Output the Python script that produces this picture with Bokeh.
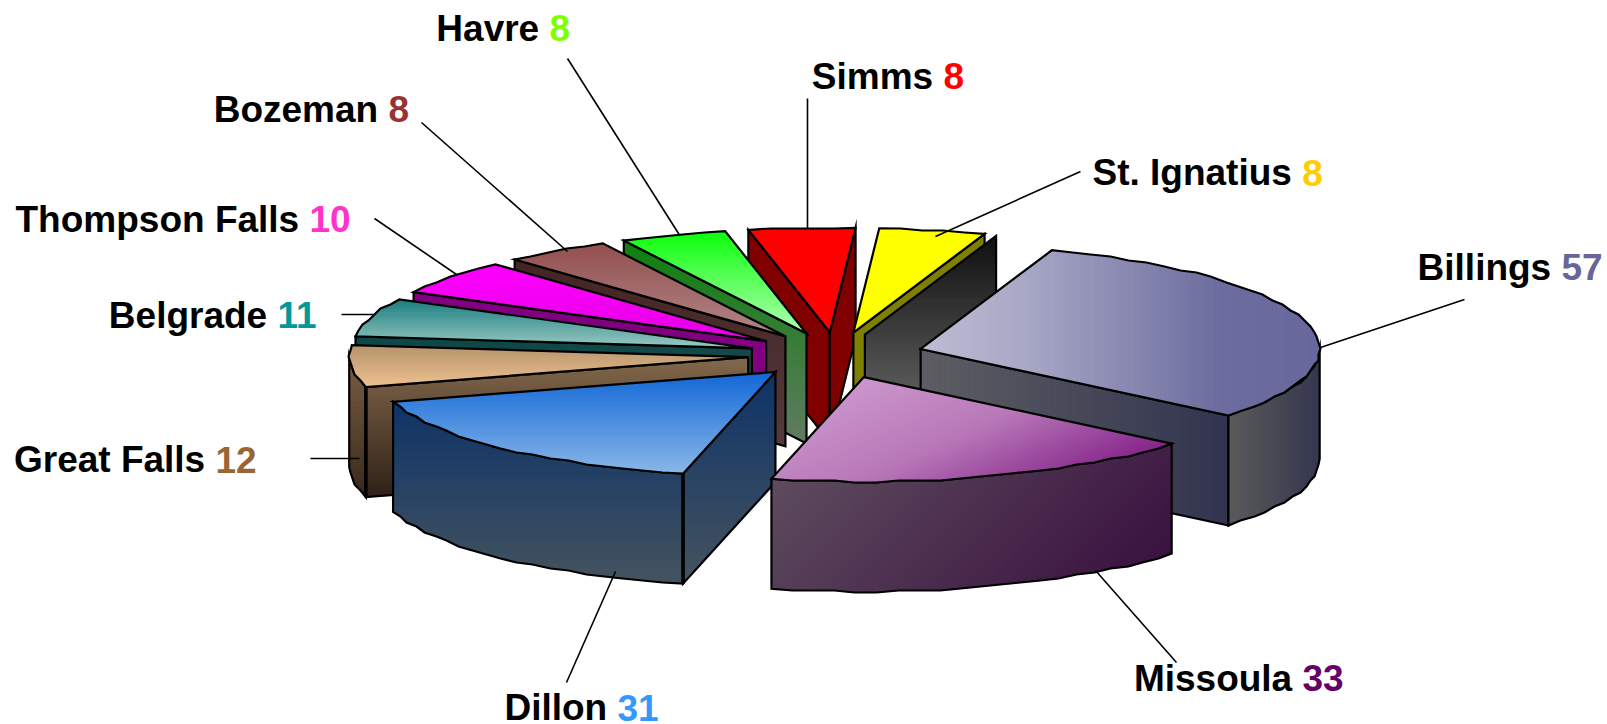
import math
from bokeh.plotting import figure
from bokeh.models import Range1d, ColumnDataSource
from bokeh.embed import file_html
from bokeh.resources import INLINE
from bokeh.core.properties import value

# ---- data, clockwise from the first slice
names = ["Billings", "Missoula", "Dillon", "Great Falls", "Belgrade",
         "Thompson Falls", "Bozeman", "Havre", "Simms", "St. Ignatius"]
counts = [57, 33, 31, 12, 11, 10, 8, 8, 8, 8]
value_colors = ["#666699", "#660066", "#3399ff", "#996633", "#009999",
                "#ff33cc", "#993333", "#80ff00", "#ff0000", "#ffcc00"]

# ---- pie geometry (pixels of the page)
START = 19.2
CX, CY = 835.4, 354.7
RADIUS, TILT, DEPTH, EXPLODE = 399.0, 0.262, 110.0, 88.0
GHOST = (11.5, 2.0)   # the stray grey wall beside St. Ignatius
SNAP = 2.0            # the reference's rims are stepped to a coarse grid
ARC_STEP = 3.0

# ---- face styles: (direction, stops)
V, H, D, M = (0, 1), (1, 0), (1, 1), (0.45, 1)
top_style = {
    "Billings": (H, ["#bdbdd4", "#a9a9c7", "#8b8bb3", "#6c6c9f", "#68689c"]),
    "Missoula": (M, ["#cc96cc", "#b878b8", "#85258a"]),
    "Dillon": (V, ["#1468d8", "#8ab8e8"]),
    "Great Falls": (V, ["#b8946c", "#eec292"]),
    "Belgrade": (V, ["#1c7e80", "#9ccbc4"]),
    "Thompson Falls": (V, ["#ff00ff", "#e600e6"]),
    "Bozeman": (V, ["#945050", "#b28888"]),
    "Havre": (V, ["#0cff0c", "#b4ffb4"]),
    "Simms": (V, ["#ff0000", "#ff0000"]),
    "St. Ignatius": (V, ["#ffff00", "#ffff00"]),
}
wall_style = {
    "Billings": (H, ["#5e5e63", "#32354f"]),
    "Dillon": (V, ["#0e3468", "#46545f"]),
    "Great Falls": (V, ["#84694c", "#30221a"]),
    "Belgrade": (V, ["#0c4848", "#4a5a58"]),
    "Thompson Falls": (V, ["#800080", "#800080"]),
    "Bozeman": (V, ["#452525", "#553c3c"]),
    "Havre": (V, ["#0e800e", "#637b63"]),
    "Simms": (V, ["#800000", "#800000"]),
    "St. Ignatius": (V, ["#808000", "#808000"]),
}
rim_style = {
    "Billings": (H, ["#5c5c5c", "#363850"]),
    "Missoula": (D, ["#5e4c5e", "#3a1240"]),
    "Dillon": (V, ["#0e3468", "#46545f"]),
    "Great Falls": (V, ["#7a6045", "#3a2a1c"]),
}
ghost_style = (V, ["#101010", "#747474"])
thick_seams = ["Dillon", "Great Falls"]
draw_order = ["Simms", "St. Ignatius", "Havre", "Bozeman", "Thompson Falls",
              "Belgrade", "Great Falls", "Billings", "Dillon", "Missoula"]

# ---- labels: x where the number starts, baseline y
label_x = [1561, 1302, 617, 215, 277, 309, 388, 549, 943, 1301.7]
label_y = [266.7, 677.7, 707.2, 459.2, 314.7, 218.7, 108.7, 27.7, 75.7, 172.2]
FONT_PX = 37
GAP = 10.3
# ---- leader lines
lead_x0 = [1464, 1176, 566, 310, 341, 374, 421, 567, 807, 1080]
lead_y0 = [299, 662, 682, 458, 314, 218, 122, 58, 98, 171]
lead_x1 = [1320, 1095, 615, 359, 374, 456, 567, 678.5, 807, 935]
lead_y1 = [347, 570, 571, 458, 314, 274, 251, 233.7, 228, 236]


def hex_rgb(c):
    return tuple(int(c[i:i + 2], 16) for i in (1, 3, 5))


def ramp(stops, t):
    t = min(max(t, 0.0), 1.0) * (len(stops) - 1)
    i = min(int(t), len(stops) - 2)
    f = t - i
    a, b = hex_rgb(stops[i]), hex_rgb(stops[i + 1])
    return "#%02x%02x%02x" % tuple(round(a[j] + (b[j] - a[j]) * f) for j in range(3))


def clip(poly, d, limit, keep_above):
    """Keep the part of poly on one side of dot(p, d) = limit."""
    out = []
    n = len(poly)
    for i in range(n):
        p, q = poly[i], poly[(i + 1) % n]
        sp = (p[0] * d[0] + p[1] * d[1]) - limit
        sq = (q[0] * d[0] + q[1] * d[1]) - limit
        if not keep_above:
            sp, sq = -sp, -sq
        if sp >= 0:
            out.append(p)
        if (sp >= 0) != (sq >= 0):
            f = sp / (sp - sq)
            out.append((p[0] + (q[0] - p[0]) * f, p[1] + (q[1] - p[1]) * f))
    return out


xs, ys, fills, lines, widths, falpha = [], [], [], [], [], []
seam_x0, seam_y0, seam_y1 = [], [], []


def add_face(poly, style, strips=90):
    d, stops = style
    proj = [p[0] * d[0] + p[1] * d[1] for p in poly]
    lo, hi = min(proj), max(proj)
    flat = stops[0] == stops[-1] and len(stops) == 2
    n = 1 if flat else strips
    for i in range(n):
        a = lo + (hi - lo) * i / n
        b = lo + (hi - lo) * (i + 1) / n + 1.0
        part = clip(clip(poly, d, a, True), d, b, False)
        if len(part) < 3:
            continue
        c = ramp(stops, (i + 0.5) / n)
        xs.append([p[0] for p in part]); ys.append([p[1] for p in part])
        fills.append(c); lines.append(c); widths.append(0.4); falpha.append(1.0)
    xs.append([p[0] for p in poly]); ys.append([p[1] for p in poly])
    fills.append("#000000"); lines.append("#000000"); widths.append(2.2); falpha.append(0.0)


total = sum(counts)
spans = {}
angle = START
for name, c in zip(names, counts):
    sweep = 360.0 * c / total
    spans[name] = (angle, angle + sweep)
    angle += sweep


def down(pts):
    return [(x, y + DEPTH) for x, y in pts]


def snap(pt):
    return (round(pt[0] / SNAP) * SNAP, round(pt[1] / SNAP) * SNAP)


for name in draw_order:
    a0, a1 = spans[name]
    mid = math.radians((a0 + a1) / 2)
    ax = CX + EXPLODE * math.sin(mid)
    ay = CY - EXPLODE * TILT * math.cos(mid)
    apex = (ax, ay)

    def rim(deg):
        r = math.radians(deg)
        return (ax + RADIUS * math.sin(r), ay - RADIUS * TILT * math.cos(r))

    def arc_pts(lo, hi):
        steps = max(2, int((hi - lo) / ARC_STEP))
        inner = [snap(rim(lo + (hi - lo) * i / steps)) for i in range(1, steps)]
        return [rim(lo)] + inner + [rim(hi)]

    # radial walls that face the viewer
    for deg, faces in ((a0, math.sin(math.radians(a0)) < 0), (a1, math.sin(math.radians(a1)) > 0)):
        if faces and name in wall_style:
            edge = [rim(deg), apex]
            add_face(edge + down(edge)[::-1], wall_style[name])
            if name == "St. Ignatius":
                ghost = [(x + GHOST[0], y + GHOST[1]) for x, y in edge]
                add_face(ghost + down(ghost)[::-1], ghost_style)
    # curved outer wall, only where it faces the viewer
    lo, hi = max(a0, 90.0), min(a1, 270.0)
    if name in rim_style and hi > lo:
        arc = arc_pts(lo, hi)
        add_face(arc + down(arc)[::-1], rim_style[name])
    if name in thick_seams:
        s = rim(a0)
        seam_x0.append(s[0]); seam_y0.append(s[1]); seam_y1.append(s[1] + DEPTH)
    # top face
    add_face([apex] + arc_pts(a0, a1), top_style[name])

p = figure(width=1607, height=724, output_backend="svg", toolbar_location=None,
           x_range=Range1d(0, 1607), y_range=Range1d(724, 0), min_border=0,
           outline_line_color=None, background_fill_color="white", border_fill_color="white")
p.axis.visible = False
p.grid.visible = False
p.styles = {"position": "absolute", "left": "0px", "top": "0px"}

p.patches("xs", "ys", source=ColumnDataSource(dict(xs=xs, ys=ys, fill=fills, line=lines, w=widths, fa=falpha)),
          fill_color="fill", line_color="line", line_width="w", fill_alpha="fa", line_join="miter")
p.segment(seam_x0, seam_y0, seam_x0, seam_y1, line_color="#000000", line_width=3.6)

p.segment(lead_x0, lead_y0, lead_x1, lead_y1, line_color="#000000", line_width=1.6)

font = value("Liberation Sans")
p.text([x - GAP for x in label_x], label_y, text=names, text_font=font, text_font_style="bold",
       text_font_size=f"{FONT_PX}px", text_align="right", text_baseline="alphabetic", text_color="#000000")
p.text(label_x, label_y, text=[str(c) for c in counts], text_font=font, text_font_style="bold",
       text_font_size=f"{FONT_PX}px", text_align="left", text_baseline="alphabetic", text_color=value_colors)

open("out.html", "w").write(file_html(p, INLINE))
